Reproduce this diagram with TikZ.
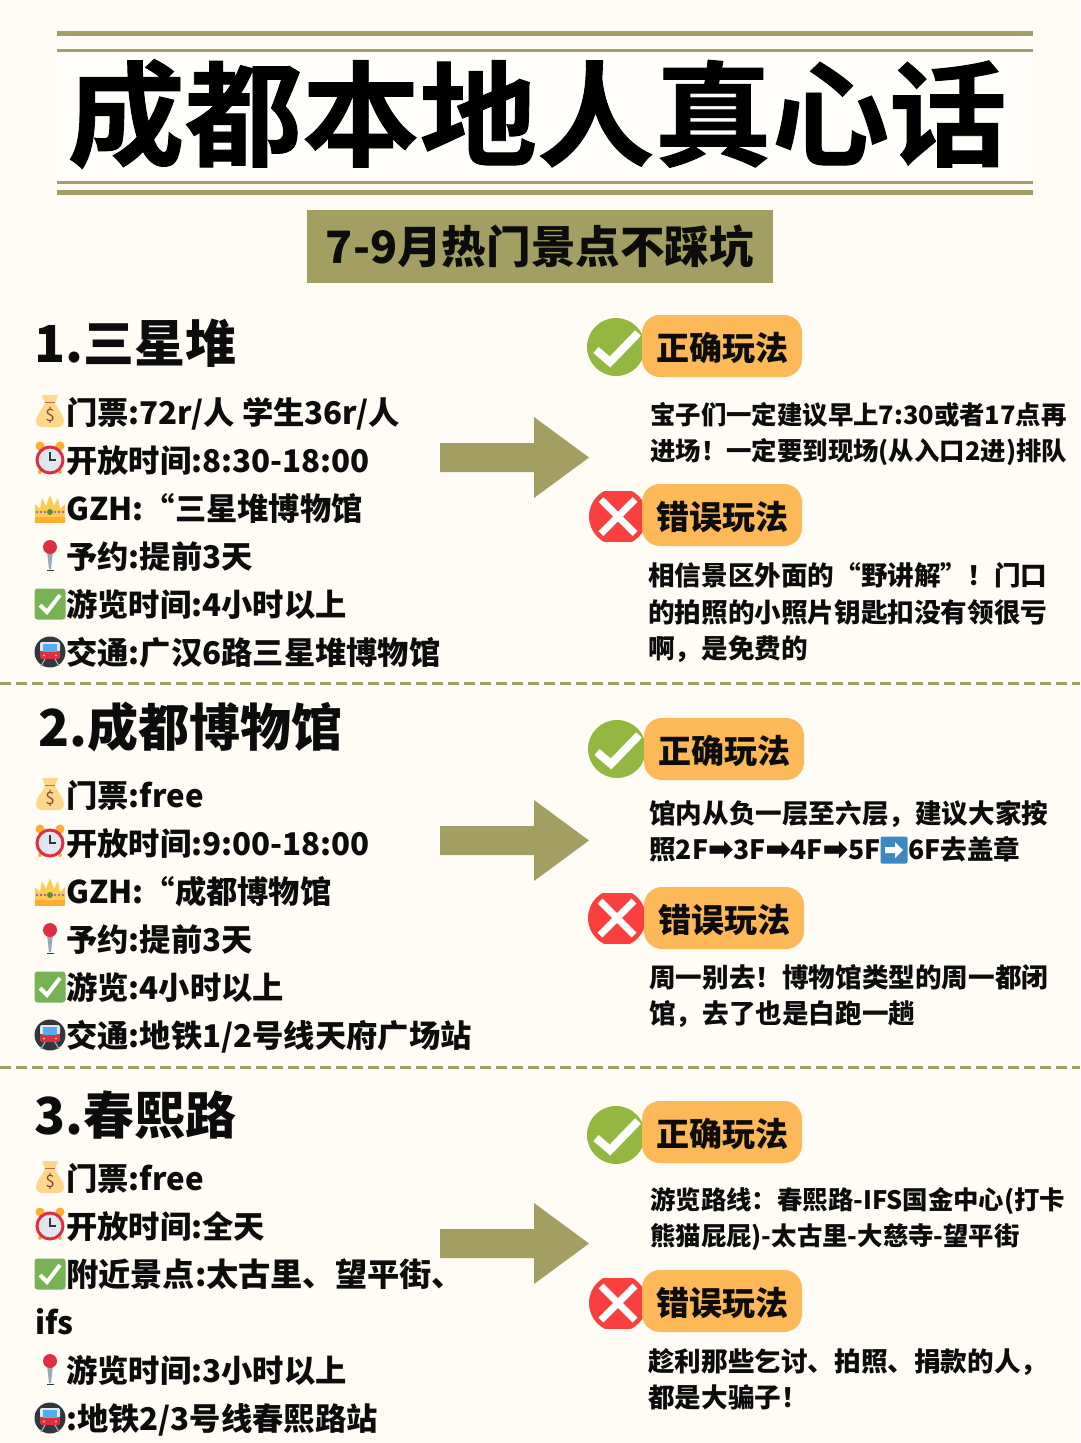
\documentclass[tikz,border=0pt]{standalone}
\usepackage{fontspec}
\setmainfont{Noto Sans CJK SC}
\newfontfamily\arrowfont[FakeBold=1.2]{DejaVu Sans}
\newfontfamily\titlefont[UprightFont=* Bold,FakeBold=0.8,FakeStretch=1.03]{Noto Sans CJK SC}
\usetikzlibrary{positioning}
\definecolor{paper}{HTML}{FFFCF6}
\definecolor{paperwhite}{HTML}{FFFEFB}
\definecolor{olive}{HTML}{A39E61}
\definecolor{ink}{HTML}{0C0C0C}
\definecolor{badgefill}{HTML}{FDB858}
\definecolor{goodgreen}{HTML}{93B73F}
\definecolor{badred}{HTML}{F9403F}
\definecolor{emojired}{HTML}{DD2E44}
\definecolor{emojiamber}{HTML}{FFAC33}
\definecolor{emojigold}{HTML}{FFCC4D}
\definecolor{emojisand}{HTML}{FDD888}
\definecolor{emojibrown}{HTML}{BF6952}
\definecolor{emojigrey}{HTML}{99AAB5}
\definecolor{emojipale}{HTML}{E1E8ED}
\definecolor{emojidark}{HTML}{31373D}
\definecolor{emojigreen}{HTML}{77B255}
\definecolor{emojiblue}{HTML}{3B88C3}
\definecolor{emojisky}{HTML}{55ACEE}
\definecolor{emojipurple}{HTML}{9266CC}
\definecolor{emojileaf}{HTML}{5C913B}
\tikzset{
	title/.style={font=\titlefont\fontsize{114}{114}\selectfont,text=black,inner sep=0},
	subtitle/.style={fill=olive,minimum width=466,minimum height=73,inner sep=0,text=ink,font=\bfseries\fontsize{44.6}{44.6}\selectfont},
	heading/.style={anchor=base west,inner sep=0,text=ink,font=\bfseries\fontsize{51}{51}\selectfont},
	item/.style={anchor=base west,inner sep=0,text=ink,font=\bfseries\fontsize{31.3}{31.3}\selectfont},
	itemwide/.style={item,font=\bfseries\fontsize{32.2}{32.2}\selectfont},
	remark/.style={anchor=base west,inner sep=0,text=ink,font=\bfseries\fontsize{25.4}{25.4}\selectfont},
	remarkwide/.style={anchor=base west,inner sep=0,text=ink,font=\bfseries\fontsize{26.6}{26.6}\selectfont},
	badge/.style={fill=badgefill,rounded corners=18,minimum width=160,minimum height=62,inner sep=0,text height=28,text depth=0,text=ink,font=\bfseries\fontsize{33}{33}\selectfont},
	goodmark/.style={circle,fill=goodgreen,minimum size=58,inner sep=0},
	pics/bigarrow/.style={code={
		\fill[olive] (440,-14.5) -- (534,-14.5) -- (534,-40.5) -- (589,0) -- (534,40.5) -- (534,14.5) -- (440,14.5) -- cycle;
	}},
	pics/tick/.style={code={
		\draw[white,line width=8,line join=miter] (-20,3) -- (-6,15) -- (22,-14);
	}},
	pics/cross/.style={code={
		\begin{scope}
			\clip (-30,-25) rectangle (30,25);
			\fill[badred] (0,0) circle (29);
		\end{scope}
		\draw[white,line width=7] (-17,-17) -- (17,17) (-17,17) -- (17,-17);
	}},
	pics/moneybag/.style={code={
		\fill[emojisand] (-5,-9) .. controls (-8,-2) and (-14,3) .. (-14,9) .. controls (-14,13) and (-11,15) .. (-7,15) -- (7,15) .. controls (11,15) and (14,13) .. (14,9) .. controls (14,3) and (8,-2) .. (5,-9) -- (8,-17) -- (-8,-17) -- cycle;
		\draw[emojibrown,line width=1.2] (-5,-9.5) -- (5,-9.5);
		\node[text=emojibrown!70!black,font=\fontsize{17}{17}\selectfont,inner sep=0] at (0,3.5) {\$};
	}},
	pics/alarm/.style={code={
		\fill[emojiamber] (-10,-14) circle (4.5) (10,-14) circle (4.5);
		\fill[emojiamber] (-10,12) circle (2) (10,12) circle (2);
		\fill[emojipale] (0,0) circle (12);
		\draw[emojired,line width=3] (0,0) circle (13);
		\draw[emojidark,line width=1.6] (0,-8) -- (0,0) -- (6,0);
	}},
	pics/crown/.style={code={
		\fill[emojigold] (-15,12) -- (-15,-4) -- (-10,1) -- (-8,-10) -- (-4,-2) -- (0,-13) -- (4,-2) -- (8,-10) -- (10,1) -- (15,-4) -- (15,12) -- cycle;
		\fill[emojiamber] (-15,9) rectangle (15,15);
		\fill[emojileaf] (0,4) circle (3);
		\foreach \x in {-13,-9,-5,5,9,13}{\fill[emojipurple] (\x,4) circle (1.4);}
	}},
	pics/mappin/.style={code={
		\fill[emojigrey] (-3,-5) -- (3,-5) -- (1,13) -- (-1,13) -- cycle;
		\fill[emojidark] (-3.5,13.5) rectangle (3.5,15);
		\fill[emojired] (0,-9) circle (7);
	}},
	pics/tickbox/.style={code={
		\fill[emojigreen,rounded corners=3] (-15.5,-15.5) rectangle (15.5,15.5);
		\draw[white,line width=4] (-10,1) -- (-3,8) -- (10,-9);
	}},
	pics/metro/.style={code={
		\fill[emojidark] (0,0) circle (15.5);
		\fill[emojipale,rounded corners=2] (-10,-10) rectangle (10,0);
		\fill[emojired,rounded corners=2] (-10,-1) rectangle (10,7);
		\fill[emojisky] (-7,-8) rectangle (7,0);
		\fill[emojigold] (-6,3.5) circle (1.2) (6,3.5) circle (1.2);
		\draw[emojigrey,line width=1.2] (-5,7) -- (-9,14) (5,7) -- (9,14);
	}},
	pics/bluearrow/.style={code={
		\fill[emojiblue,rounded corners=2] (-13.5,-13.5) rectangle (13.5,13.5);
		\fill[white] (-9,-3) -- (1,-3) -- (1,-8) -- (9,0) -- (1,8) -- (1,3) -- (-9,3) -- cycle;
	}}
}
\newcommand{\rarr}{{\arrowfont\fontsize{30}{30}\selectfont\char"27A1}}
\begin{document}
\begin{tikzpicture}[x=1pt,y=-1pt]
	\useasboundingbox (0,0) rectangle (1080,1443);
	\fill[paper] (0,0) rectangle (1080,1443);
	\fill[paperwhite] (57,52) rectangle (1033,180);

	\foreach \y/\w in {33/5,50/3,182/3,192/5}{
		\draw[olive,line width=\w] (57,\y) -- (1033,\y);
	}
	\foreach \y in {683,1067}{
		\draw[olive,line width=3,dash pattern=on 11 off 5] (0,\y) -- (1080,\y);
	}

	\node[title] (maintitle) at (537,114) {成都本地人真心话};
	\node[subtitle] (subbox) at (540,246.5) {7-9月热门景点不踩坑};

	\node[heading] (headone) at (34.5,362) {1.三星堆};
	\node[heading] (headtwo) at (38,746) {2.成都博物馆};
	\node[heading] (headthree) at (34.5,1134) {3.春熙路};

	\foreach \y/\icn/\txt in {
		412/moneybag/{门票:72r/人 学生36r/人},
		460/alarm/{开放时间:8:30-18:00},
		508/crown/{GZH:“三星堆博物馆},
		556/mappin/{予约:提前3天},
		604/tickbox/{游览时间:4小时以上},
		652/metro/{交通:广汉6路三星堆博物馆},
		795/moneybag/{门票:free},
		843/alarm/{开放时间:9:00-18:00},
		891/crown/{GZH:“成都博物馆},
		939/mappin/{予约:提前3天},
		987/tickbox/{游览:4小时以上},
		1035/metro/{交通:地铁1/2号线天府广场站},
		1178/moneybag/{门票:free},
		1226/alarm/{开放时间:全天},
		1370/mappin/{游览时间:3小时以上},
		1418/metro/{:地铁2/3号线春熙路站}}{
		\pic at (50,\y) {\icn};
		\node[item] (item\y) at (66,\y+12) {\txt};
	}
	\pic at (50,1274) {tickbox};
	\node[itemwide] (itemnear) at (66,1286) {附近景点:太古里、望平街、};
	\node[item] (itemifs) at (35,1334) {ifs};

	\foreach \y in {457.5,840.5,1243.5}{
		\pic at (0,\y) {bigarrow};
	}

	\foreach \n/\x/\mx/\gy/\my/\by/\ry in {one/0/616/346/347/515/516.5,two/2/617/749/749/918/918,three/0/616/1132/1135/1301/1303}{
		\node[goodmark] (mark\n) at (\mx,\my) {};
		\pic at (\mx,\my) {tick};
		\node[badge] (good\n) at (722+\x,\gy) {正确玩法};
		\pic at (618-\x/2,\ry) {cross};
		\node[badge] (bad\n) at (722+\x,\by) {错误玩法};
	}

	\node[remark] (remone) at (650,424) {宝子们一定建议早上7:30或者17点再};
	\node[remark] (remtwo) at (650,460) {进场！一定要到现场(从入口2进)排队};
	\node[remarkwide] (remthree) at (648,585) {相信景区外面的“野讲解”！门口};
	\node[remarkwide] (remfour) at (648,622) {的拍照的小照片钥匙扣没有领很亏};
	\node[remarkwide] (remfive) at (648,658) {啊，是免费的};

	\node[remarkwide] (remsix) at (649,823) {馆内从负一层至六层，建议大家按};
	\node[remarkwide] (remseven) at (649,859) {照2F\rarr 3F\rarr 4F\rarr 5F};
	\pic at (894,850) {bluearrow};
	\node[remarkwide] (remeight) at (908,859) {6F去盖章};
	\node[remarkwide] (remnine) at (649,987) {周一别去！博物馆类型的周一都闭};
	\node[remarkwide] (remten) at (649,1023) {馆，去了也是白跑一趟};

	\node[remark] (remeleven) at (650,1209) {游览路线：春熙路-IFS国金中心(打卡};
	\node[remark] (remtwelve) at (650,1245) {熊猫屁屁)-太古里-大慈寺-望平街};
	\node[remarkwide] (remthirteen) at (648,1371) {趁利那些乞讨、拍照、捐款的人，};
	\node[remarkwide] (remfourteen) at (648,1407) {都是大骗子！};
\end{tikzpicture}
\end{document}
